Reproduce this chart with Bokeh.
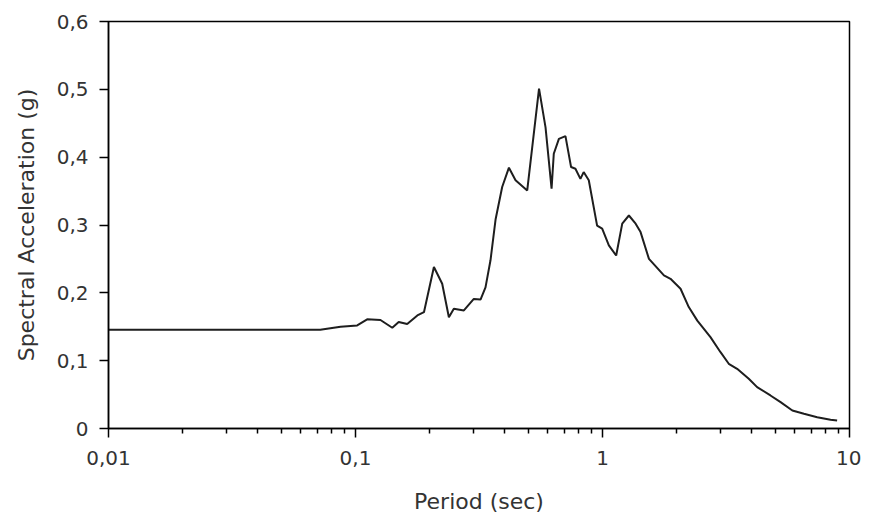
from bokeh.plotting import figure
from bokeh.models import Range1d, FixedTicker, ColumnDataSource
from bokeh.embed import file_html
from bokeh.resources import INLINE

# Data (period in s, spectral acceleration in g)
period = [0.01, 0.05, 0.072, 0.087, 0.1016, 0.1115, 0.1262, 0.1409, 0.1496, 0.1619,
          0.178, 0.1893, 0.2077, 0.2244, 0.2388, 0.2501, 0.2747, 0.3013, 0.3207, 0.336,
          0.352, 0.369, 0.3925, 0.418, 0.4446, 0.4957, 0.5534, 0.588, 0.622, 0.635,
          0.666, 0.708, 0.746, 0.777, 0.814, 0.839, 0.880, 0.951, 0.997, 1.061,
          1.136, 1.202, 1.279, 1.362, 1.426, 1.542, 1.773, 1.885, 2.07, 2.235,
          2.42, 2.736, 3.005, 3.245, 3.508, 3.91, 4.227, 4.786, 5.26, 5.87,
          6.54, 7.4, 8.38, 8.91]
sa = [0.1455, 0.1455, 0.1455, 0.150, 0.152, 0.161, 0.160, 0.1485, 0.157, 0.154,
      0.1667, 0.1715, 0.238, 0.2134, 0.164, 0.1765, 0.174, 0.191, 0.190, 0.208,
      0.248, 0.308, 0.356, 0.3845, 0.366, 0.351, 0.501, 0.444, 0.3535, 0.405,
      0.427, 0.431, 0.3855, 0.383, 0.368, 0.378, 0.366, 0.299, 0.2945, 0.270,
      0.255, 0.302, 0.314, 0.302, 0.2895, 0.250, 0.2257, 0.2207, 0.206, 0.179,
      0.159, 0.1347, 0.1125, 0.0954, 0.088, 0.0733, 0.061, 0.0487, 0.0388, 0.0265,
      0.0217, 0.0167, 0.0128, 0.0118]

x_ticks = [0.01, 0.1, 1, 10]
x_tick_labels = ["0,01", "0,1", "1", "10"]
x_minor_ticks = [m * d for d in (0.01, 0.1, 1) for m in range(2, 10)]
y_ticks = [0, 0.1, 0.2, 0.3, 0.4, 0.5, 0.6]
y_tick_labels = ["0", "0,1", "0,2", "0,3", "0,4", "0,5", "0,6"]

source = ColumnDataSource(data=dict(period=period, sa=sa))

p = figure(frame_width=741, frame_height=407, x_axis_type="log",
           x_range=Range1d(0.01, 10), y_range=Range1d(0, 0.6),
           output_backend="svg", toolbar_location=None,
           min_border_left=108, min_border_top=21, min_border_right=12,
           min_border_bottom=84)

p.line("period", "sa", source=source, line_color="#1e1e1e", line_width=2)

p.grid.visible = False
p.outline_line_color = "black"
p.outline_line_width = 1.5
p.outline_line_alpha = 1.0
p.background_fill_color = "white"
p.border_fill_color = "white"

xa = p.xaxis[0]
xa.ticker = FixedTicker(ticks=x_ticks, minor_ticks=x_minor_ticks)
xa.major_label_overrides = dict(zip(x_ticks, x_tick_labels))
xa.major_tick_in = 0
xa.major_tick_out = 9
xa.minor_tick_in = 0
xa.minor_tick_out = 5
xa.major_label_standoff = 13
xa.axis_label = "Period (sec)"
xa.axis_label_standoff = 21

ya = p.yaxis[0]
ya.ticker = FixedTicker(ticks=y_ticks, minor_ticks=[])
ya.major_label_overrides = dict(zip(y_ticks, y_tick_labels))
ya.major_tick_in = 0
ya.major_tick_out = 9
ya.minor_tick_in = 0
ya.minor_tick_out = 0
ya.major_label_standoff = 11
ya.axis_label = "Spectral Acceleration (g)"
ya.axis_label_standoff = 15

for ax in (xa, ya):
    ax.axis_line_color = "black"
    ax.axis_line_width = 1.5
    ax.major_tick_line_color = "black"
    ax.major_tick_line_width = 1.5
    ax.minor_tick_line_color = "black"
    ax.minor_tick_line_width = 1.5
    ax.major_label_text_font = "DejaVu Sans"
    ax.major_label_text_font_size = "20px"
    ax.major_label_text_color = "#333333"
    ax.axis_label_text_font = "DejaVu Sans"
    ax.axis_label_text_font_size = "22px"
    ax.axis_label_text_font_style = "normal"
    ax.axis_label_text_color = "#333333"

open("out.html", "w").write(file_html(p, INLINE))
